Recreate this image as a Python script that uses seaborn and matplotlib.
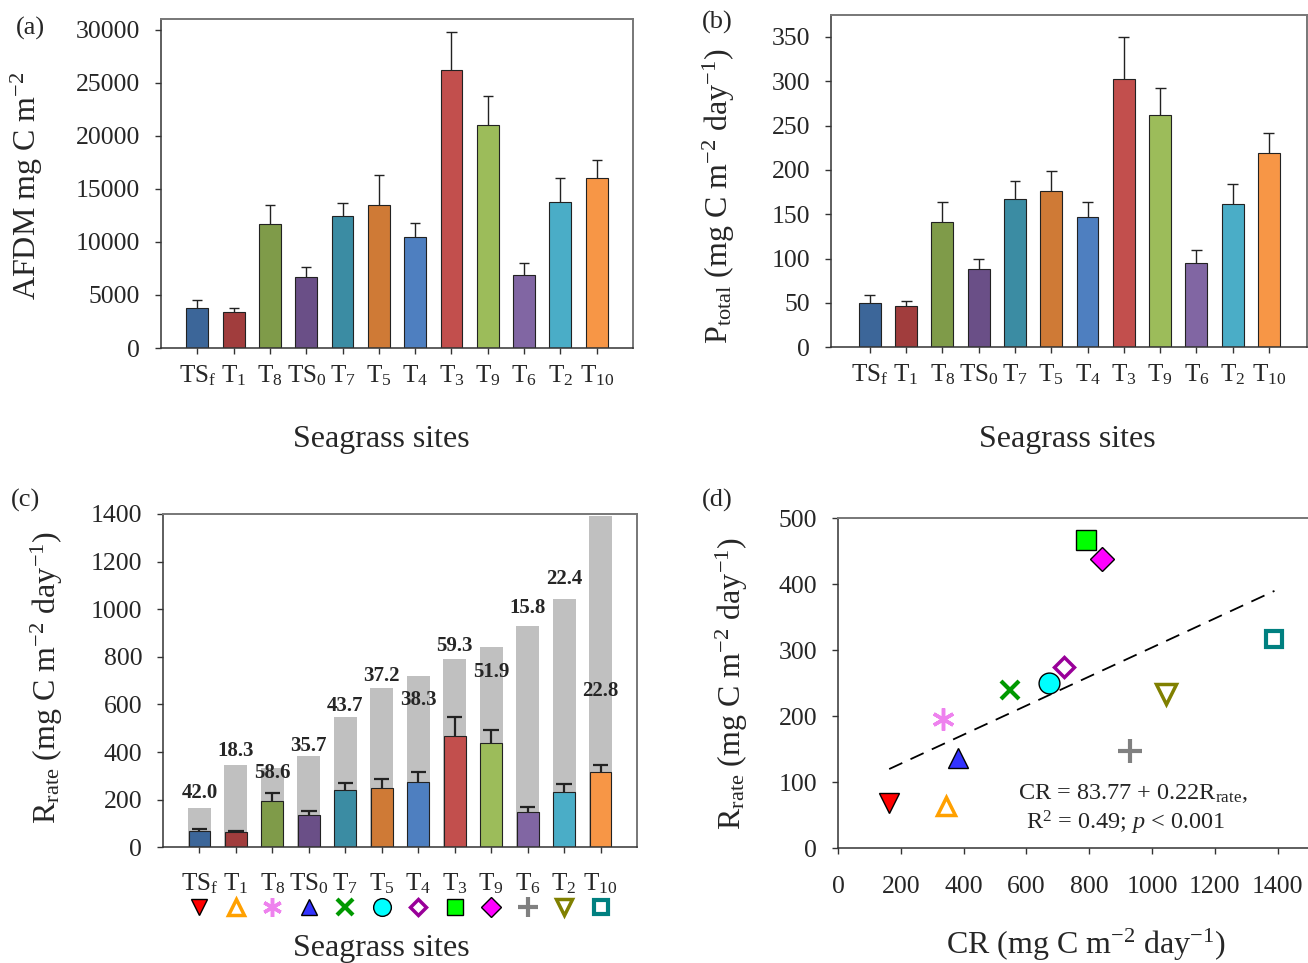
import numpy as np
import pandas as pd
import matplotlib
matplotlib.use("Agg")
import matplotlib.pyplot as plt
import seaborn as sns
from matplotlib.transforms import blended_transform_factory

# ---------------- data ----------------
site_ids = ["TSf", "T1", "T8", "TS0", "T7", "T5", "T4", "T3", "T9", "T6", "T2", "T10"]
site_labels = [r"TS$_{\rm f}$", r"T$_1$", r"T$_8$", r"TS$_0$", r"T$_7$", r"T$_5$",
               r"T$_4$", r"T$_3$", r"T$_9$", r"T$_6$", r"T$_2$", r"T$_{10}$"]

afdm = [3770, 3390, 11700, 6650, 12400, 13500, 10500, 26200, 21000, 6900, 13750, 16050]
afdm_err = [750, 400, 1800, 950, 1300, 2800, 1300, 3550, 2750, 1100, 2250, 1650]

p_total = [50.3, 46.9, 140.8, 88.3, 166.7, 176.1, 146.5, 302.7, 261.4, 95.4, 161.5, 219.3]
p_total_err = [9.0, 5.3, 23.3, 10.8, 20.3, 22.9, 16.9, 47.7, 31.5, 14.6, 22.1, 22.5]

r_rate = [68.5, 63, 196, 136, 240, 250, 275, 467, 438, 147, 233, 316]
r_rate_err = [10, 6, 34, 17, 28, 36, 42, 79, 53, 23, 34, 30]
cr = [163, 344, 334, 382, 549, 671, 720, 789, 842, 930, 1045, 1390]
pct_text = ["42.0", "18.3", "58.6", "35.7", "43.7", "37.2", "38.3", "59.3", "51.9", "15.8", "22.4", "22.8"]
pct_label_y = [227, 403, 311, 424, 592, 718, 620, 847, 735, 1006, 1125, 655]

fit_intercept = 83.77
fit_slope = 0.22

bar_colors = ["#3C6699", "#A13D3D", "#7F9B49", "#6A4F87", "#3B8CA3", "#CF7A36",
              "#4E7FC0", "#C24F4D", "#9CBC5A", "#8166A3", "#4AADC7", "#F79646"]

marker_specs = [
    dict(marker="v", mfc="#FF0000", mec="black", mew=1.0, ms=14),
    dict(marker="^", mfc="white", mec="#FFA000", mew=2.5, ms=13),
    dict(marker=(6, 2, 0), mfc="#EE82EE", mec="#EE82EE", mew=2.5, ms=16),
    dict(marker="^", mfc="#3333FF", mec="black", mew=1.0, ms=14),
    dict(marker="x", mfc="#009900", mec="#009900", mew=3.0, ms=13),
    dict(marker="o", mfc="#00FFFF", mec="black", mew=1.0, ms=15),
    dict(marker="D", mfc="white", mec="#990099", mew=2.5, ms=10),
    dict(marker="s", mfc="#00FF00", mec="black", mew=1.0, ms=14),
    dict(marker="D", mfc="#FF00FF", mec="black", mew=1.0, ms=12),
    dict(marker="+", mfc="#808080", mec="#808080", mew=3.0, ms=17),
    dict(marker="v", mfc="white", mec="#808000", mew=2.5, ms=14),
    dict(marker="s", mfc="white", mec="#008080", mew=3.0, ms=12),
]

# ---------------- style ----------------
sns.set_theme(style="ticks")
plt.rcParams["font.family"] = ["Liberation Serif", "DejaVu Serif"]
plt.rcParams["mathtext.fontset"] = "custom"
plt.rcParams["mathtext.rm"] = "Liberation Serif"
plt.rcParams["mathtext.it"] = "Liberation Serif:italic"
plt.rcParams["mathtext.bf"] = "Liberation Serif:bold"
plt.rcParams["axes.unicode_minus"] = True

W, H = 1308, 963
fig = plt.figure(figsize=(W / 100, H / 100), dpi=100)


def fx(x):
    return x / W


def fy(y):
    return 1 - y / H


def add_axes(left, top, right, bottom):
    return fig.add_axes([fx(left), fy(bottom), (right - left) / W, (bottom - top) / H])


TICK_FS = 18.5
SITE_FS = 18
LABEL_FS = 23


def style_axes(ax, right=True, xpad=8):
    for s in ["left", "bottom"]:
        ax.spines[s].set_color("#333333")
        ax.spines[s].set_linewidth(1.1)
    ax.spines["top"].set_color("#777777")
    ax.spines["top"].set_linewidth(1.4)
    if right:
        ax.spines["right"].set_color("#777777")
        ax.spines["right"].set_linewidth(1.4)
    else:
        ax.spines["right"].set_visible(False)
    ax.tick_params(axis="y", direction="out", length=4, width=1, pad=11,
                   labelsize=TICK_FS, color="#333333")
    ax.tick_params(axis="x", direction="out", length=4, width=1, pad=xpad,
                   labelsize=SITE_FS, color="#333333")
    ax.set_xlabel("")
    ax.set_ylabel("")


def up_errorbars(ax, xs, vals, errs, half_cap, lw):
    tops = np.asarray(vals) + np.asarray(errs)
    ax.vlines(xs, vals, tops, colors="#222222", linewidth=lw, zorder=3)
    ax.hlines(tops, xs - half_cap, xs + half_cap, colors="#222222", linewidth=lw, zorder=3)


x_pos = np.arange(len(site_ids))
df = pd.DataFrame({"site": site_ids, "afdm": afdm, "p": p_total, "r": r_rate, "cr": cr})

# ---------------- (a) ----------------
axa = add_axes(161, 19, 633, 348)
sns.barplot(data=df, x="site", y="afdm", hue="site", palette=bar_colors, legend=False,
            saturation=1, width=0.6, edgecolor="#222222", linewidth=0.8, errorbar=None,
            ax=axa, zorder=2)
up_errorbars(axa, x_pos, afdm, afdm_err, 0.14, 1.0)
axa.set_xlim(-1, 12)
axa.set_ylim(0, 31000)
axa.set_yticks(np.arange(0, 30001, 5000))
axa.set_xticks(x_pos)
axa.set_xticklabels(site_labels)
style_axes(axa, xpad=7)

# ---------------- (b) ----------------
axb = add_axes(831, 14.7, 1307, 347.3)
sns.barplot(data=df, x="site", y="p", hue="site", palette=bar_colors, legend=False,
            saturation=1, width=0.6, edgecolor="#222222", linewidth=0.8, errorbar=None,
            ax=axb, zorder=2)
up_errorbars(axb, x_pos, p_total, p_total_err, 0.15, 1.0)
axb.set_xlim(-1.07, 12.05)
axb.set_ylim(0, 375)
axb.set_yticks(np.arange(0, 351, 50))
axb.set_xticks(x_pos)
axb.set_xticklabels(site_labels)
style_axes(axb, xpad=7)

# ---------------- (c) ----------------
axc = add_axes(163, 514, 637, 847.3)
sns.barplot(data=df, x="site", y="cr", color="#C0C0C0", saturation=1, width=0.63,
            linewidth=0, errorbar=None, ax=axc, zorder=1)
sns.barplot(data=df, x="site", y="r", hue="site", palette=bar_colors, legend=False,
            saturation=1, width=0.6, edgecolor="#222222", linewidth=0.8, errorbar=None,
            ax=axc, zorder=2)
up_errorbars(axc, x_pos, r_rate, r_rate_err, 0.21, 1.6)
for xi, txt, ty in zip(x_pos, pct_text, pct_label_y):
    axc.text(xi, ty, txt, ha="center", va="center", fontsize=15, fontweight="bold", zorder=4)
axc.set_xlim(-1, 12)
axc.set_ylim(0, 1400)
axc.set_yticks(np.arange(0, 1401, 200))
axc.set_xticks(x_pos)
axc.set_xticklabels(site_labels)
style_axes(axc, xpad=13)
trans = blended_transform_factory(axc.transData, axc.transAxes)
for xi, spec in zip(x_pos, marker_specs):
    sp = dict(spec)
    sp["ms"] = sp["ms"] * 0.85
    axc.plot([xi], [-0.18], linestyle="none", transform=trans, clip_on=False, **sp)

# ---------------- (d) ----------------
axd = add_axes(838, 518, 1309, 848)
line_x = np.array([min(cr), max(cr)])
axd.plot(line_x, fit_intercept + fit_slope * line_x, color="black", linestyle=(0, (8, 5)),
         linewidth=1.3, zorder=2)
for xv, yv, spec in zip(cr, r_rate, marker_specs):
    axd.plot([xv], [yv], linestyle="none", zorder=3, clip_on=False, **spec)
axd.set_xlim(0, 1500)
axd.set_ylim(0, 500)
axd.set_xticks(np.arange(0, 1401, 200))
axd.set_yticks(np.arange(0, 501, 100))
style_axes(axd, right=False, xpad=16)
axd.tick_params(axis="x", labelsize=TICK_FS)
fig.text(fx(1133), fy(793), r"CR = 83.77 + 0.22R$_{\rm rate}$,", ha="center", va="center", fontsize=17.5)
fig.text(fx(1126), fy(823), r"R$^2$ = 0.49; $p$ < 0.001", ha="center", va="center", fontsize=17.5)

# ---------------- labels ----------------
fig.text(fx(30), fy(28), "(a)", ha="center", va="center", fontsize=19)
fig.text(fx(717), fy(22), "(b)", ha="center", va="center", fontsize=19)
fig.text(fx(25), fy(500), "(c)", ha="center", va="center", fontsize=19)
fig.text(fx(717), fy(500), "(d)", ha="center", va="center", fontsize=19)

fig.text(fx(27), fy(186), r"AFDM mg C m$^{-2}$", rotation=90, ha="center", va="center", fontsize=LABEL_FS)
fig.text(fx(719), fy(196), r"P$_{\rm total}$ (mg C m$^{-2}$ day$^{-1}$)", rotation=90,
         ha="center", va="center", fontsize=LABEL_FS)
fig.text(fx(47), fy(678), r"R$_{\rm rate}$ (mg C m$^{-2}$ day$^{-1}$)", rotation=90,
         ha="center", va="center", fontsize=LABEL_FS)
fig.text(fx(732), fy(684), r"R$_{\rm rate}$ (mg C m$^{-2}$ day$^{-1}$)", rotation=90,
         ha="center", va="center", fontsize=LABEL_FS)

fig.text(fx(381), fy(440), "Seagrass sites", ha="center", va="center", fontsize=LABEL_FS)
fig.text(fx(1067), fy(440), "Seagrass sites", ha="center", va="center", fontsize=LABEL_FS)
fig.text(fx(381), fy(948), "Seagrass sites", ha="center", va="center", fontsize=LABEL_FS)
fig.text(fx(1086), fy(945), r"CR (mg C m$^{-2}$ day$^{-1}$)", ha="center", va="center", fontsize=LABEL_FS)

fig.savefig("out.png", dpi=100)
